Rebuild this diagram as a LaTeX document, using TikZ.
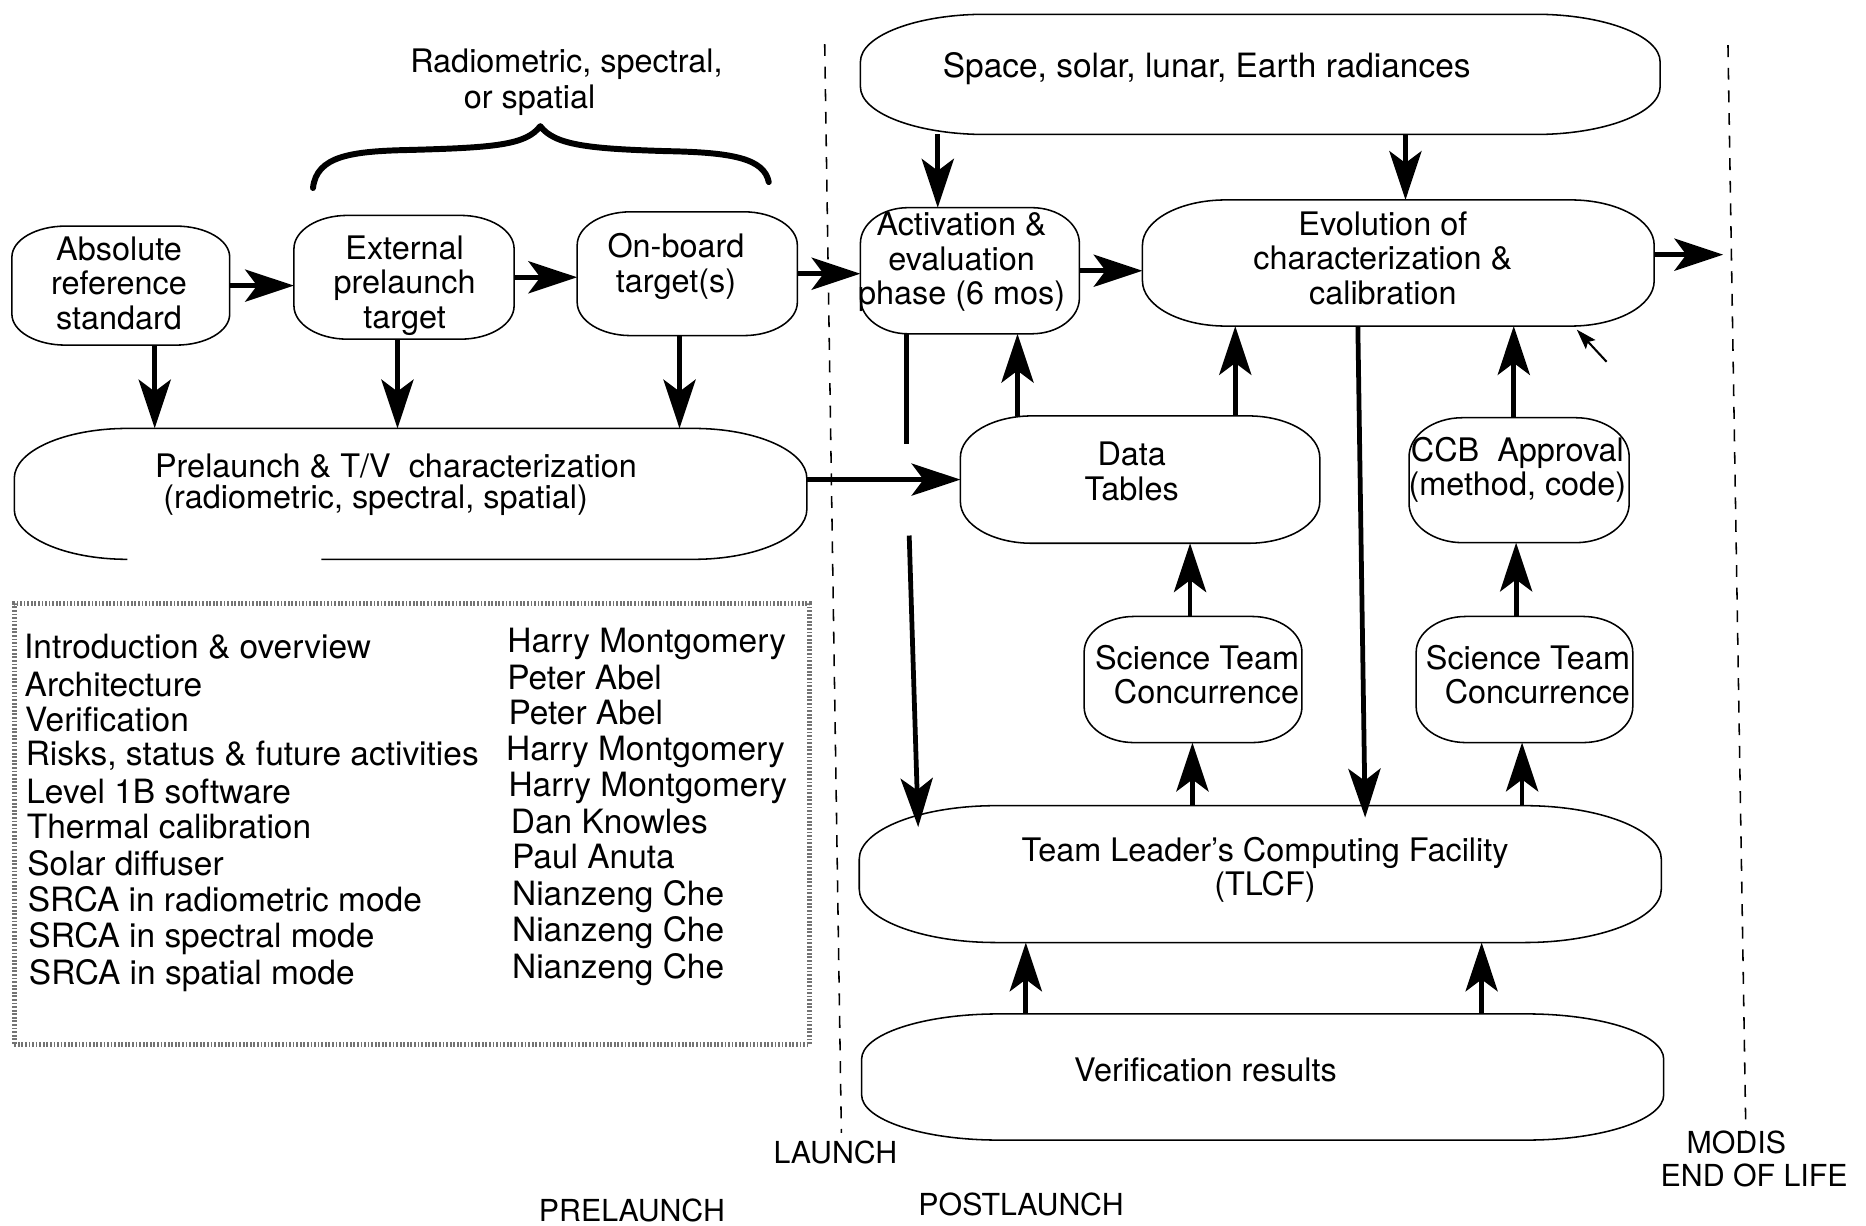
\documentclass[tikz,border=0pt]{standalone}
\usepackage{fontspec}
\setmainfont{TeX Gyre Heros}
\usetikzlibrary{arrows.meta,calc}

\newlength\pxu
\setlength\pxu{0.02cm}
\newcommand\boxfont{\fontsize{15.5}{16.5}\selectfont}
\newcommand\listfont{\fontsize{16}{17}\selectfont}
\newcommand\tagfont{\fontsize{14.5}{16}\selectfont}

% outline of a named area: straight sides, elliptic corners (rx, ry)
\newcommand\boxoutline[3]{%
  \draw[boxline] ($(#1.north west)+(#2,0)$) -- ($(#1.north east)+(-#2,0)$)
    .. controls ($(#1.north east)+(-0.448*#2,0)$) and ($(#1.north east)+(0,0.448*#3)$) .. ($(#1.north east)+(0,#3)$)
    -- ($(#1.south east)+(0,-#3)$)
    .. controls ($(#1.south east)+(0,-0.448*#3)$) and ($(#1.south east)+(-0.448*#2,0)$) .. ($(#1.south east)+(-#2,0)$)
    -- ($(#1.south west)+(#2,0)$)
    .. controls ($(#1.south west)+(0.448*#2,0)$) and ($(#1.south west)+(0,-0.448*#3)$) .. ($(#1.south west)+(0,-#3)$)
    -- ($(#1.north west)+(0,#3)$)
    .. controls ($(#1.north west)+(0,0.448*#3)$) and ($(#1.north west)+(0.448*#2,0)$) .. cycle;}

\tikzset{
  zone/.style={inner sep=0pt, outer sep=0pt},
  boxline/.style={line width=0.026cm, line join=round},
  txt/.style={font=\boxfont, align=center, inner sep=0pt},
  item/.style={font=\listfont, inner sep=0pt},
  tag/.style={font=\tagfont, inner sep=0pt},
  arr/.style={line width=0.08cm, -{Stealth[length=0.82cm, width=0.54cm, inset=0.2cm]}},
  shaft/.style={line width=0.08cm},
  bound/.style={line width=0.026cm, dash pattern=on 0.2cm off 0.18cm},
  brace/.style={line width=0.1cm, line cap=round, line join=round},
  screen/.style={draw=black!55, line width=0.08cm, dash pattern=on 0.03cm off 0.03cm},
}

\begin{document}
\begin{tikzpicture}[x=0.02cm, y=-0.02cm]
\useasboundingbox (0,0) rectangle (1568,1030);

% ---------- areas ----------
\node[zone, minimum width=183\pxu, minimum height=100\pxu] (A)   at (101.5,240) {};
\node[zone, minimum width=185\pxu, minimum height=104\pxu] (B)   at (339.5,233) {};
\node[zone, minimum width=185\pxu, minimum height=104\pxu] (C)   at (577.5,230) {};
\node[zone, minimum width=184\pxu, minimum height=106\pxu] (D)   at (815,227.5) {};
\node[zone, minimum width=430\pxu, minimum height=106\pxu] (E)   at (1175,221) {};
\node[zone, minimum width=672\pxu, minimum height=101\pxu] (S)   at (1059,62.5) {};
\node[zone, minimum width=666\pxu, minimum height=110\pxu] (P)   at (345,415) {};
\node[zone, minimum width=302\pxu, minimum height=107\pxu] (DT)  at (958,403) {};
\node[zone, minimum width=185\pxu, minimum height=105\pxu] (CCB) at (1276.5,403.5) {};
\node[zone, minimum width=183\pxu, minimum height=106\pxu] (ST1) at (1002.5,571) {};
\node[zone, minimum width=182\pxu, minimum height=106\pxu] (ST2) at (1281,571) {};
\node[zone, minimum width=674\pxu, minimum height=115\pxu] (TLCF) at (1059,734.5) {};
\node[zone, minimum width=674\pxu, minimum height=106\pxu] (VR)  at (1061,905) {};
\node[zone, screen, minimum width=668\pxu, minimum height=371\pxu] (legend) at (346,692.5) {};

\boxoutline{A}{45}{26}
\boxoutline{B}{45}{28}
\boxoutline{C}{45}{28}
\boxoutline{D}{40}{30}
\boxoutline{E}{70}{38}
\boxoutline{S}{105}{40}
\boxoutline{DT}{60}{35}
\boxoutline{CCB}{45}{33}
\boxoutline{ST1}{42}{30}
\boxoutline{ST2}{42}{30}
\boxoutline{TLCF}{115}{45}
\boxoutline{VR}{115}{38}

% prelaunch characterization: outline left open at the bottom
\draw[boxline] ($(P.south west)+(258,0)$) -- ($(P.south east)+(-95,0)$)
  .. controls ($(P.south east)+(-0.448*95,0)$) and ($(P.south east)+(0,-0.448*42)$) .. ($(P.south east)+(0,-42)$)
  -- ($(P.north east)+(0,42)$)
  .. controls ($(P.north east)+(0,0.448*42)$) and ($(P.north east)+(-0.448*95,0)$) .. ($(P.north east)+(-95,0)$)
  -- ($(P.north west)+(95,0)$)
  .. controls ($(P.north west)+(0.448*95,0)$) and ($(P.north west)+(0,0.448*42)$) .. ($(P.north west)+(0,42)$)
  -- ($(P.south west)+(0,-42)$)
  .. controls ($(P.south west)+(0,-0.448*42)$) and ($(P.south west)+(0.448*95,0)$) .. ($(P.south west)+(95,0)$);

% ---------- texts ----------
\node[txt] (A-t) at (100,238) {Absolute\\reference\\standard};
\node[txt] (B-t) at (340,240) {External\\prelaunch\\target};
\node[txt] (C-t) at (568,224) {On-board\\target(s)};
\node[txt] (D-t) at (808,220) {Activation \&\\evaluation\\phase (6 mos)};
\node[txt] (E-t) at (1162,217) {Evolution of\\characterization \&\\calibration};
\node[txt, font=\listfont] (S-t) at (1014,58) {Space, solar, lunar, Earth radiances};
\node[txt, anchor=west] (P-t1) at (130,392) {Prelaunch \& T/V\ \ characterization};
\node[txt, anchor=west] (P-t2) at (137,420) {(radiometric, spectral, spatial)};
\node[txt] (DT-t) at (951,396) {Data\\Tables};
\node[txt] (CCB-t) at (1275,395) {CCB\ \ Approval\\(method, code)};
\node[txt, align=right, anchor=east] (ST1-t) at (1092,567) {Science Team\\Concurrence};
\node[txt, align=right, anchor=east] (ST2-t) at (1370,567) {Science Team\\Concurrence};
\node[txt] (TLCF-t) at (1063,731) {Team Leader's Computing Facility\\(TLCF)};
\node[txt] (VR-t) at (1013,899) {Verification results};

\node[txt, anchor=base] (cat1) at (476,61) {Radiometric, spectral,};
\node[txt, anchor=base] (cat2) at (445,91) {or spatial};

\node[tag, anchor=base] (launch) at (702,978) {LAUNCH};
\node[tag, anchor=base] (pre)    at (531,1026) {PRELAUNCH};
\node[tag, anchor=base] (post)   at (858,1021) {POSTLAUNCH};
\node[tag, anchor=base] (modis)  at (1459,969) {MODIS};
\node[tag, anchor=base] (eolife) at (1474,997) {END OF LIFE};

% ---------- presentation list ----------
\foreach \t/\yy [count=\i] in {{Introduction \& overview}/553, Architecture/585, Verification/615,
    {Risks, status \& future activities}/643, {Level 1B software}/675, {Thermal calibration}/705,
    {Solar diffuser}/736, {SRCA in radiometric mode}/766, {SRCA in spectral mode}/796,
    {SRCA in spatial mode}/827}
  \node[item, anchor=base west] (topic\i) at ({19.5+0.45*\i},\yy) {\t};
\foreach \n/\xx/\yy [count=\i] in {{Harry Montgomery}/426/548, {Peter Abel}/426/579, {Peter Abel}/427/609,
    {Harry Montgomery}/425/639, {Harry Montgomery}/427/669, {Dan Knowles}/429/700,
    {Paul Anuta}/430/730, {Nianzeng Che}/430/761, {Nianzeng Che}/430/791, {Nianzeng Che}/430/822}
  \node[item, anchor=base west] (speaker\i) at (\xx,\yy) {\n};

% ---------- brace over the targets ----------
\coordinate (brL) at (263,158);
\coordinate (brM) at (454,106);
\coordinate (brR) at (646,153);
\draw[brace] (brL) .. controls (266,131) and (295,127) .. (345,126)
  .. controls (415,124) and (442,122) .. (brM)
  .. controls (466,122) and (495,125) .. (560,127)
  .. controls (615,128) and (642,133) .. (brR);

% ---------- phase boundaries ----------
\coordinate (launchTop) at (693,37);
\coordinate (launchBot) at (707,952);
\draw[bound] (launchTop) -- (launchBot);
\coordinate (lifeTop) at (1452,38);
\coordinate (lifeBot) at (1467,950);
\draw[bound] (lifeTop) -- (lifeBot);

% ---------- connectors ----------
\draw[arr] (A.east) -- (A.east -| B.west);
\draw[arr] (B.east) -- (B.east -| C.west);
\draw[arr] (C.east) -- (C.east -| D.west);
\draw[arr] (D.east) -- (D.east -| E.west);
\coordinate (eol) at (1448,214);
\draw[arr] (eol -| E.east) -- (eol);

\draw[arr] (A.south -| 130,0) -- (P.north -| 130,0);
\draw[arr] (B.south -| 334,0) -- (P.north -| 334,0);
\draw[arr] (C.south -| 571,0) -- (P.north -| 571,0);
\draw[arr] (DT.west -| P.east) -- (DT.west);

\draw[arr] (S.south -| 788,0) -- (D.north -| 788,0);
\draw[arr] (S.south -| 1181,0) -- (E.north -| 1181,0);
\draw[arr] (DT.north -| 855,0) -- (D.south -| 855,0);
\draw[arr] (DT.north -| 1038,0) -- (E.south -| 1038,0);
\draw[arr] (CCB.north -| 1272,0) -- (E.south -| 1272,0);
\draw[arr] (ST1.north -| 1000,0) -- (DT.south -| 1000,0);
\draw[arr] (ST2.north -| 1274,0) -- (CCB.south -| 1274,0);
\draw[arr] (TLCF.north -| 1002,0) -- (ST1.south -| 1002,0);
\draw[arr] (TLCF.north -| 1279,0) -- (ST2.south -| 1279,0);
\draw[arr] (VR.north -| 862,0) -- (TLCF.south -| 862,0);
\draw[arr] (VR.north -| 1245,0) -- (TLCF.south -| 1245,0);

\coordinate (gapT) at (762,373);
\coordinate (gapB) at (764,450);
\draw[shaft] (D.south -| gapT) -- (gapT);
\draw[arr, shorten >=-0.36cm] (gapB) -- (TLCF.north -| 771,0);
\draw[arr, shorten >=-0.2cm] (E.south -| 1141,0) -- (TLCF.north -| 1147,0);

\coordinate (tickA) at (1350,304);
\coordinate (tickB) at (1325,277);
\draw[line width=0.035cm, -{Stealth[length=0.34cm, width=0.22cm, inset=0.06cm]}] (tickA) -- (tickB);
\end{tikzpicture}
\end{document}
